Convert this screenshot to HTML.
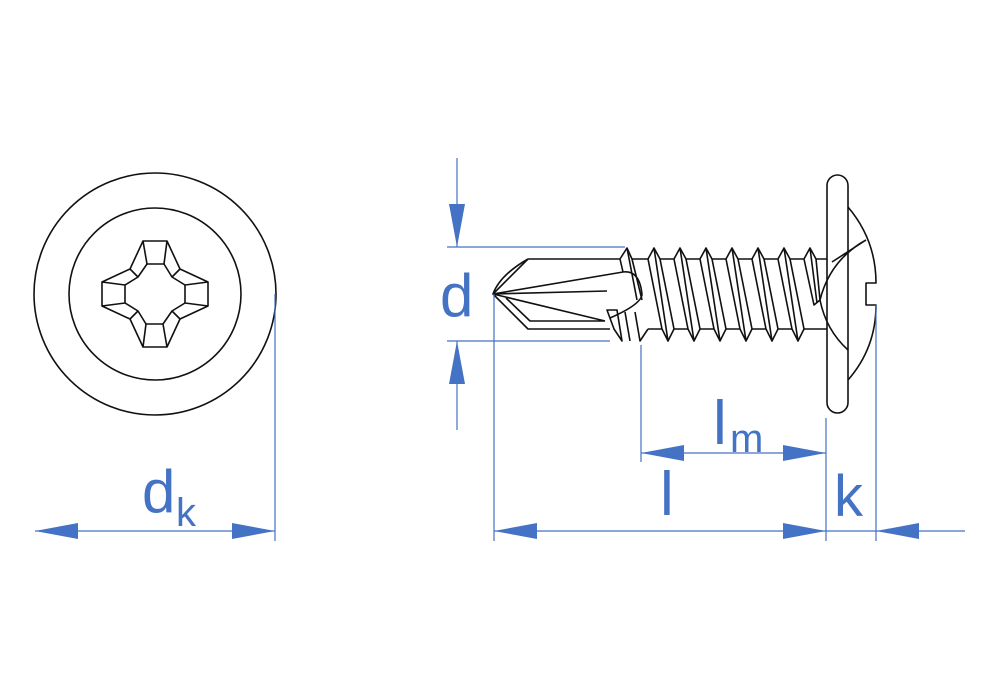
<!DOCTYPE html>
<html><head><meta charset="utf-8"><style>
html,body{margin:0;padding:0;background:#fff}
svg{display:block}
text{font-family:"Liberation Sans",sans-serif;fill:#4472c4}
</style></head><body>
<svg width="1000" height="700" viewBox="0 0 1000 700" xmlns="http://www.w3.org/2000/svg">
<g fill="none" stroke="#111" stroke-width="1.6" stroke-linejoin="round">
<circle cx="155" cy="294" r="121"/>
<circle cx="155" cy="294" r="86"/>
<g transform="translate(155,294)">
<g id="q">
<path d="M-12,-53 L12,-53 L9,-30 L-8,-30 Z"/>
<path d="M-12,-53 L-25,-25 L-53,-12 M-8,-30 L-17,-17 L-30,-9 M-25,-25 L-17,-17"/>
<path d="M12,-53 L25,-25 L53,-12 M9,-30 L17,-17 L30,-9 M25,-25 L17,-17"/>
</g>
<g transform="rotate(180)">
<path d="M-12,-53 L12,-53 L9,-30 L-8,-30 Z"/>
<path d="M-12,-53 L-25,-25 L-53,-12 M-8,-30 L-17,-17 L-30,-9 M-25,-25 L-17,-17"/>
<path d="M12,-53 L25,-25 L53,-12 M9,-30 L17,-17 L30,-9 M25,-25 L17,-17"/>
</g>
<path d="M-53,-12 L-53,12 L-30,9 L-30,-9 Z"/>
<path d="M53,-12 L53,12 L30,9 L30,-9 Z"/>
</g>
<!-- screw drill -->
<path d="M528,259 L493,294 L528,329 L610,329"/>
<path d="M528,259 L620,259"/>
<path d="M528,259 Q500,275 493,294 M493,294 L623,272 Q640,270 642,295 Q640,305 610,318 M493,294 L607,291 M493,294 L605,321 M506,298 L530,321 L605,321"/>
<path d="M607,310 L617,310 L622,341 L614,329 Z"/>
<path d="M620,259 L627,248 L632,259 M620,259 L623,272"/>
<path d="M632,259 L642,300 M627,248 L637,300"/>
<path d="M635,312 L640,341 L648,329 M625,312 L630,341"/>
<!-- threads -->
<g>
<path d="M648,259 L654,248 L660,259 M648,259 L662,329 L668,341 L674,329 L660,259 M654,248 L668,341"/>
<path d="M674,259 L680,248 L686,259 M674,259 L688,329 L694,341 L700,329 L686,259 M680,248 L694,341"/>
<path d="M700,259 L706,248 L712,259 M700,259 L714,329 L720,341 L726,329 L712,259 M706,248 L720,341"/>
<path d="M726,259 L732,248 L738,259 M726,259 L740,329 L746,341 L752,329 L738,259 M732,248 L746,341"/>
<path d="M752,259 L758,248 L764,259 M752,259 L766,329 L772,341 L778,329 L764,259 M758,248 L772,341"/>
<path d="M778,259 L784,248 L790,259 M778,259 L792,329 L798,341 L804,329 L790,259 M784,248 L798,341"/>
<path d="M804,259 L810,248 L816,259 M804,259 L814,305 L820,300 L816,259 M810,248 L817,303"/>
</g>
<path d="M632,259 L648,259 M660,259 L674,259 M686,259 L700,259 M712,259 L726,259 M738,259 L752,259 M764,259 L778,259 M790,259 L804,259 M816,259 L827,259"/>
<path d="M648,329 L662,329 M674,329 L688,329 M700,329 L714,329 M726,329 L740,329 M752,329 L766,329 M778,329 L792,329 M804,329 L827,329"/>
<!-- head -->
<rect x="827" y="175" width="21" height="238" rx="10.5"/>
<path d="M848,207 Q876,240 876,283 L866,283 L866,305 L876,305 Q876,348 848,380"/>
<path d="M866,240 L832,262 M866,240 Q830,260 820,300 Q826,330 848,350"/>
</g>
<!-- dimensions -->
<g stroke="#4472c4" stroke-width="1.2" fill="none">
<path d="M447,247 H625 M447,341 H610 M457,158 V247 M457,341 V430"/>
<path d="M275,294 V541 M35,531 H275"/>
<path d="M494,294 V541 M826,418 V541 M494,531 H826 M876,305 V541 M826,531 H965"/>
<path d="M641,345 V462 M641,453 H826"/>
</g>
<g fill="#4472c4">
<polygon points="457,247 449,204 465,204"/>
<polygon points="457,341 449,384 465,384"/>
<polygon points="35,531 78,523 78,539"/>
<polygon points="275,531 232,523 232,539"/>
<polygon points="494,531 537,523 537,539"/>
<polygon points="826,531 783,523 783,539"/>
<polygon points="876,531 919,523 919,539"/>
<polygon points="641,453 684,445 684,461"/>
<polygon points="826,453 783,445 783,461"/>
</g>
<text x="440" y="316" font-size="60">d</text>
<text x="142" y="512" font-size="60">d</text>
<text x="176" y="526" font-size="40">k</text>
<text x="660" y="515" font-size="62">l</text>
<text x="713" y="444" font-size="62">l</text>
<text x="730" y="452" font-size="40">m</text>
<text x="834" y="516" font-size="58">k</text>
</svg>
</body></html>
